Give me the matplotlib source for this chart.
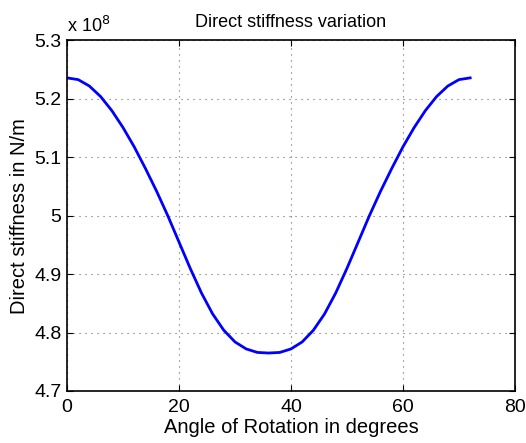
import matplotlib.pyplot as plt

# úhel natočení (stupně) a přímá tuhost (v jednotkách 1e8 N/m)
uhel = [0, 2, 4, 6, 8, 10, 12, 14, 16, 18, 20, 22, 24, 26, 28, 30, 32, 34, 36,
        38, 40, 42, 44, 46, 48, 50, 52, 54, 56, 58, 60, 62, 64, 66, 68, 70, 72]
tuhost = [5.236, 5.233, 5.222, 5.204, 5.180, 5.151, 5.118, 5.081, 5.042, 5.000,
          4.955, 4.910, 4.868, 4.832, 4.804, 4.784, 4.772, 4.766, 4.765,
          4.766, 4.772, 4.784, 4.804, 4.832, 4.868, 4.910, 4.955, 5.000,
          5.042, 5.081, 5.118, 5.151, 5.180, 5.204, 5.222, 5.233, 5.236]

x_ticks = [0, 20, 40, 60, 80]
y_ticks = [4.7, 4.8, 4.9, 5.0, 5.1, 5.2, 5.3]
y_labels = ["4.7", "4.8", "4.9", "5", "5.1", "5.2", "5.3"]

plt.rcParams['font.family'] = ['Liberation Sans', 'DejaVu Sans']

fig = plt.figure(figsize=(5.26, 4.43), dpi=100)
ax = fig.add_axes([0.1274, 0.1174, 0.8516, 0.7912])

ax.plot(uhel, tuhost, color=(0, 0, 1), linewidth=2.0, solid_joinstyle='round')

ax.set_xlim(0, 80)
ax.set_ylim(4.7, 5.3)
ax.set_xticks(x_ticks)
ax.set_yticks(y_ticks)
ax.set_yticklabels(y_labels)
ax.tick_params(direction='in', top=True, right=True, length=4, width=0.8,
               labelsize=14, colors='black')
ax.tick_params(axis='x', pad=6)
ax.tick_params(axis='y', pad=4)
ax.grid(True, linestyle=(0, (1, 4.4)), color='#666666', linewidth=0.8)
for s in ax.spines.values():
    s.set_linewidth(1.2)

ax.set_title("Direct stiffness variation", fontsize=13, pad=10)
ax.set_xlabel("Angle of Rotation in degrees", fontsize=14.5, labelpad=1)
ax.set_ylabel("Direct stiffness in N/m", fontsize=14.5, labelpad=4)
ax.text(0.0, 1.012, "x 10$^{8}$", transform=ax.transAxes, fontsize=13,
        ha='left', va='bottom')

fig.savefig("out.png", dpi=100)
